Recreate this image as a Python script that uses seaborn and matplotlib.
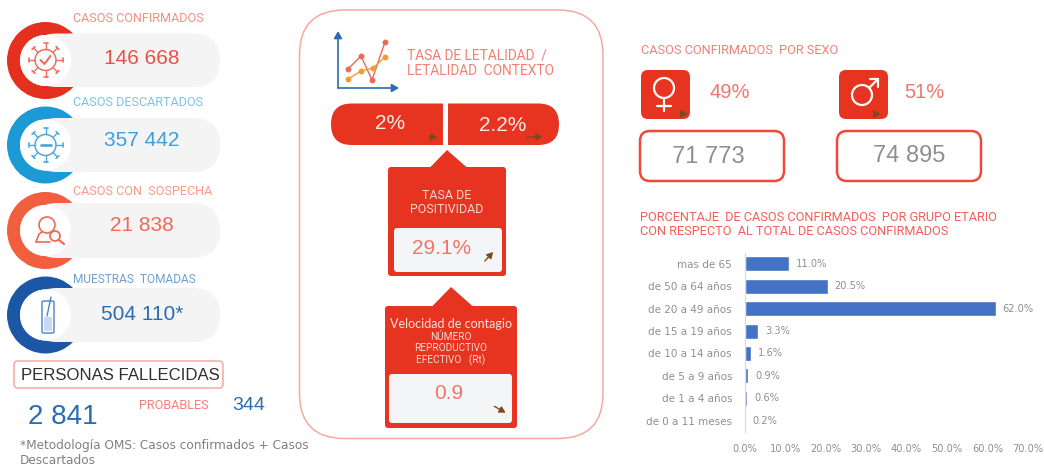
import numpy as np
import pandas as pd
import seaborn as sns
from matplotlib import pyplot as plt
from matplotlib.patches import Circle, FancyBboxPatch, Polygon, Rectangle, Wedge

# values
kpi_labels = ["CASOS CONFIRMADOS", "CASOS DESCARTADOS", "CASOS CON  SOSPECHA", "MUESTRAS  TOMADAS"]
kpi_values = ["146 668", "357 442", "21 838", "504 110*"]
fallecidos = "2 841"
probables = "344"
letalidad = ["2%", "2.2%"]
positividad = "29.1%"
rt = "0.9"
sexo_pct = ["49%", "51%"]
sexo_casos = ["71 773", "74 895"]

grupos = ["mas de 65", "de 50 a 64 años", "de 20 a 49 años", "de 15 a 19 años",
          "de 10 a 14 años", "de 5 a 9 años", "de 1 a 4 años", "de 0 a 11 meses"]
porcentajes = [11.0, 20.5, 62.0, 3.3, 1.6, 0.9, 0.6, 0.2]
ticks_x = [0, 10, 20, 30, 40, 50, 60, 70]

RED = "#e73420"
SOFT_RED = "#f0766c"
LINE_RED = "#f7a8a0"
GREY = "#8f8f8f"
ROW_COLORS = ["#e52f1f", "#1b9ad6", "#f25f3f", "#1c57a5"]
LABEL_COLORS = ["#f58f86", "#7cc3e8", "#f79a88", "#6f9fd3"]
VALUE_COLORS = ["#ea5044", "#3d9fdc", "#ee6a55", "#2a6db3"]
LABEL_SIZES = [9.1, 9.1, 9.1, 8.6]

sns.set_theme(style="white")
plt.rcParams["font.family"] = ["Roboto", "DejaVu Sans"]

fig = plt.figure(figsize=(10.44, 4.65), dpi=100)
ax = fig.add_axes([0, 0, 1, 1])
ax.set_xlim(0, 1044)
ax.set_ylim(465, 0)
ax.axis("off")


def rbox(x0, y0, x1, y1, r, fc="none", ec="none", lw=0, z=2):
    p = FancyBboxPatch((x0 + r, y0 + r), x1 - x0 - 2 * r, y1 - y0 - 2 * r,
                       boxstyle=f"round,pad={r},rounding_size={r}", fc=fc, ec=ec, lw=lw, zorder=z)
    ax.add_patch(p)
    return p


def label(x, y, s, size=8, color=SOFT_RED, ha="left", family="Roboto", **kw):
    ax.text(x, y, s, fontsize=size, color=color, ha=ha, va="center", family=family, zorder=6, **kw)


def number(x, y, s, size=15, color=RED, ha="center"):
    ax.text(x, y, s, fontsize=size, color=color, ha=ha, va="center", family="Liberation Sans", zorder=6)


def small_arrow(x0, y0, x1, y1):
    ax.annotate("", xy=(x1, y1), xytext=(x0, y0), zorder=7,
                arrowprops=dict(arrowstyle="-|>,head_width=0.17,head_length=0.3", color="#7a4a1c", lw=1))


def virus(cx, cy, color, mark):
    ax.add_patch(Circle((cx, cy), 10.5, fc="none", ec=color, lw=1.1, zorder=5))
    for a in np.arange(8) * np.pi / 4:
        c, s = np.cos(a), np.sin(a)
        ax.plot([cx + 10.5 * c, cx + 17 * c], [cy + 10.5 * s, cy + 17 * s], color=color, lw=1, zorder=5)
        ax.plot([cx + 17 * c - 2 * s, cx + 17 * c + 2 * s], [cy + 17 * s + 2 * c, cy + 17 * s - 2 * c],
                color=color, lw=1.2, zorder=5)
    if mark == "check":
        ax.plot([cx - 5, cx - 1, cx + 5], [cy, cy + 4, cy - 4], color=color, lw=1.5, zorder=5)
    else:
        ax.plot([cx - 5, cx + 5], [cy, cy], color=color, lw=2, zorder=5)


# left column rows: ring under the pill, white hole on top
ring_y = [60.5, 145, 230.5, 315]
pill_y = [(33.5, 87), (118, 172), (203, 258), (288, 342)]
label_y = [18, 102, 191, 279]
value_y = [59, 140, 225, 314]
for i in range(4):
    y0, y1 = pill_y[i]
    ring = Wedge((45.5, ring_y[i]), 38.5, 0, 360, width=13, fc=ROW_COLORS[i], ec="none", zorder=1)
    ax.add_patch(ring)
    ring.set_clip_path(Rectangle((0, 0), 73, 465, transform=ax.transData))
    rbox(30, y0, 220, y1, (y1 - y0) / 2, fc="#f4f4f4", z=2)
    ax.add_patch(Circle((45.5, ring_y[i]), 25.5, fc="white", ec="none", zorder=3))
    label(73, label_y[i], kpi_labels[i], size=LABEL_SIZES[i], color=LABEL_COLORS[i])
    number(142, value_y[i], kpi_values[i], color=VALUE_COLORS[i])

virus(45.5, 60, "#ee6f62", "check")
virus(45.5, 145, "#4da9de", "minus")

# suspect icon: head and magnifier
ic = "#ee6a55"
ax.add_patch(Circle((47, 225), 8, fc="none", ec=ic, lw=1.2, zorder=5))
ax.plot([36, 39, 42], [242, 234, 232], color=ic, lw=1.2, zorder=5)
ax.plot([36, 50], [242, 242], color=ic, lw=1.2, zorder=5)
ax.add_patch(Circle((55, 236), 5, fc="white", ec=ic, lw=1.3, zorder=5))
ax.plot([59, 64], [240, 244], color=ic, lw=1.6, zorder=5)

# sample tube icon
ic = "#4d82c4"
rbox(42, 301, 54, 333, 1.5, ec=ic, lw=1, z=5)
ax.add_patch(Rectangle((44, 317), 8, 14, fc="#c9daf0", ec="none", zorder=4))
ax.plot([47, 51], [316, 297], color=ic, lw=1, zorder=5)

# deaths block
rbox(14, 361, 223, 388, 4, fc="white", ec=LINE_RED, lw=1.1)
label(120.5, 375.5, "PERSONAS FALLECIDAS", size=12.1, color="#2f2f2f", ha="center", family="Liberation Sans")
number(62.5, 417, fallecidos, size=20, color="#2a6db3")
label(139, 405, "PROBABLES", size=9.1, color="#f5807a")
number(248.5, 405, probables, size=14, color="#2a6db3")
label(20, 445, "*Metodología OMS: Casos confirmados + Casos", size=8.7, color="#808080", family="DejaVu Sans")
label(20, 460, "Descartados", size=8.7, color="#808080", family="DejaVu Sans")

# center frame
rbox(299.5, 10, 603, 438.5, 45, fc="white", ec=LINE_RED, lw=1.1, z=1)

# small line chart icon
ax.annotate("", xy=(399, 88), xytext=(338, 88), zorder=5,
            arrowprops=dict(arrowstyle="-|>,head_width=0.2,head_length=0.35", color="#2a6db3", lw=1.2, shrinkA=0, shrinkB=0))
ax.annotate("", xy=(338, 31), xytext=(338, 88), zorder=5,
            arrowprops=dict(arrowstyle="-|>,head_width=0.2,head_length=0.35", color="#2a6db3", lw=1.2, shrinkA=0, shrinkB=0))
ax.plot([348, 361, 372, 385], [69, 56, 80, 42], "-o", color="#ea6a55", lw=1, ms=3.2, zorder=5)
ax.plot([348, 361, 373, 385], [79, 71, 68, 57], "-o", color="#f09a3a", lw=1, ms=3.2, zorder=5)
label(407, 55, "TASA DE LETALIDAD  /", size=9.9, color="#f37f72")
label(407, 71, "LETALIDAD  CONTEXTO", size=9.9, color="#f37f72")

# lethality pill
rbox(331, 103.5, 559, 145, 20.7, fc=RED)
ax.add_patch(Rectangle((443, 100), 5, 48, fc="white", ec="none", zorder=3))
number(390, 123, letalidad[0], color="#fdecea")
number(503, 125, letalidad[1], color="#fdecea")
small_arrow(426, 137, 440, 137)
small_arrow(524, 137, 545, 137)

# positivity card
rbox(388, 167, 506, 276, 3, fc=RED)
ax.add_patch(Polygon([(430, 167.5), (447, 150), (467, 167.5)], fc=RED, ec="none", zorder=2))
label(447, 195, "TASA DE", size=8.9, color="#fbd5cf", ha="center")
label(447, 209, "POSITIVIDAD", size=8.9, color="#fbd5cf", ha="center")
rbox(394, 228, 502, 272, 3, fc="#f4f5f7", z=3)
number(442, 248, positividad, color=SOFT_RED)
small_arrow(483, 263, 495, 250)

# Rt card
rbox(385, 306, 517, 428, 3, fc=RED)
ax.add_patch(Polygon([(432, 306.5), (451, 287), (473, 306.5)], fc=RED, ec="none", zorder=2))
label(451, 324, "Velocidad de contagio", size=9, color="#fbe3de", ha="center", family="Lato")
label(451, 336.5, "NÚMERO", size=7.2, color="#fbd5cf", ha="center")
label(451, 348, "REPRODUCTIVO", size=7.2, color="#fbd5cf", ha="center")
label(451, 360, "EFECTIVO   (Rt)", size=7.2, color="#fbd5cf", ha="center")
rbox(389, 374, 512, 423, 3, fc="#f4f5f7", z=3)
number(449, 393, rt, color=SOFT_RED)
small_arrow(492, 405, 508, 414)

# sex block
label(641, 50, "CASOS CONFIRMADOS  POR SEXO", size=9.2, color="#f5807a")
rbox(641, 70, 690, 119, 7, fc=RED)
rbox(839, 70, 888, 119, 7, fc=RED)
ax.add_patch(Circle((664, 88), 10, fc="none", ec="white", lw=1.6, zorder=4))
ax.plot([664, 664], [98, 111], color="white", lw=1.6, zorder=4)
ax.plot([657, 671], [106, 106], color="white", lw=1.6, zorder=4)
ax.add_patch(Circle((862, 95), 10, fc="none", ec="white", lw=1.6, zorder=4))
ax.plot([869, 878], [88, 79], color="white", lw=1.6, zorder=4)
ax.plot([870, 878, 878], [79, 79, 87], color="white", lw=1.6, zorder=4)
ax.add_patch(Polygon([(680, 110), (688, 114), (680, 118)], fc="#7a4a1c", ec="none", zorder=4))
ax.add_patch(Polygon([(873, 110), (881, 114), (873, 118)], fc="#7a4a1c", ec="none", zorder=4))
number(729.5, 92, sexo_pct[0], size=14.5, color=SOFT_RED)
number(924.5, 92, sexo_pct[1], size=14.5, color=SOFT_RED)
rbox(640, 131, 784, 181, 10, fc="white", ec="#ee4a3a", lw=1.8)
rbox(837, 131, 981, 181, 10, fc="white", ec="#ee4a3a", lw=1.8)
number(708, 157, sexo_casos[0], size=17, color=GREY)
number(909, 156, sexo_casos[1], size=17, color=GREY)

label(640, 217, "PORCENTAJE  DE CASOS CONFIRMADOS  POR GRUPO ETARIO", size=9.17, color="#f0605a")
label(640, 231, "CON RESPECTO  AL TOTAL DE CASOS CONFIRMADOS", size=9.17, color="#f0605a")

# age group bars
df = pd.DataFrame({"grupo": grupos, "pct": porcentajes})
bx = fig.add_axes([744.5 / 1044, 1 - 431.7 / 465, 283.6 / 1044, 179 / 465])
bx.patch.set_alpha(0)
sns.barplot(data=df, x="pct", y="grupo", color="#4472c4", saturation=1, width=0.67, ax=bx)
bx.set_xlim(0, 70)
bx.set_ylim(7.5, -0.5)
bx.set_xlabel("")
bx.set_ylabel("")
bx.set_xticks(ticks_x)
bx.set_xticklabels([f"{t:.1f}%" for t in ticks_x], family="DejaVu Sans", fontsize=7.1, color=GREY)
bx.tick_params(axis="x", length=0, pad=9)
bx.tick_params(axis="y", length=0, pad=9, labelsize=7.5, labelcolor=GREY)
for t in bx.get_yticklabels():
    t.set_family("DejaVu Sans")
bx.bar_label(bx.containers[0], labels=[f"{v:.1f}%" for v in porcentajes], padding=5,
             fontsize=7.1, color=GREY, family="DejaVu Sans")
sns.despine(ax=bx, bottom=True)
bx.spines["left"].set_color("#d9d9d9")
bx.spines["left"].set_linewidth(0.8)

plt.savefig("out.png", dpi=100)
